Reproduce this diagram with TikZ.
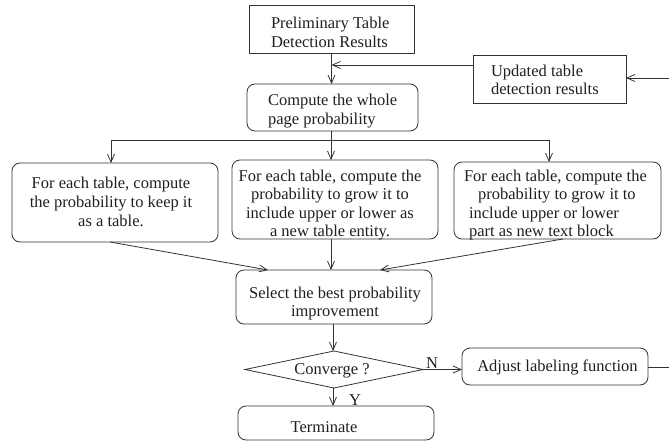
\documentclass[tikz,border=0pt]{standalone}
\usepackage{fontspec}
\setmainfont{Liberation Serif}
\usetikzlibrary{arrows.meta,shapes.geometric}
\begin{document}
\begin{tikzpicture}[x=1pt,y=-1pt,
  every node/.style={inner sep=0pt, outer sep=0pt, text=black!88},
  txt/.style={font=\fontsize{16.5}{19}\selectfont},
  txtt/.style={font=\fontsize{16.5}{18.5}\selectfont},
  sqbox/.style={draw=black!80, line width=0.8pt, rectangle},
  rbox/.style={draw=black!80, line width=0.8pt, rectangle, rounded corners=8pt},
  dbox/.style={draw=black!80, line width=0.8pt, diamond},
  flow/.style={draw=black!80, line width=0.8pt, -{Straight Barb[length=8pt,width=7pt]}},
  plain/.style={draw=black!80, line width=0.8pt}]
\useasboundingbox (0,0) rectangle (669,441);

% boxes
\node[sqbox, minimum width=165pt, minimum height=48pt] (prelim) at (331.5,29) {};
\node[rbox, minimum width=171pt, minimum height=47pt] (whole) at (332.5,107.5) {};
\node[sqbox, minimum width=153pt, minimum height=48pt] (updated) at (549.5,79) {};
\node[rbox, minimum width=206pt, minimum height=79pt] (keep) at (115,202.5) {};
\node[rbox, minimum width=206pt, minimum height=79pt] (growtab) at (335,199.5) {};
\node[rbox, minimum width=207pt, minimum height=77pt] (growtxt) at (557.5,200.5) {};
\node[rbox, minimum width=196pt, minimum height=54pt] (select) at (334,297) {};
\node[dbox, minimum width=178pt, minimum height=37pt] (conv) at (334,369.5) {};
\node[rbox, minimum width=186pt, minimum height=37pt] (adjust) at (555,366.5) {};
\node[rbox, minimum width=196pt, minimum height=34pt] (term) at (336,423) {};

% texts
\node[txt, align=left, anchor=west] (prelimtext) at (271,32) {Preliminary Table\\Detection Results};
\node[txt, align=left, anchor=west] (wholetext) at (268,111) {Compute the whole\\page probability};
\node[txtt, align=left, anchor=west] (updatedtext) at (491,80) {Updated table\\detection results};
\node[txt, align=center] (keeptext) at (111,201.5) {For each table, compute\\the probability to keep it\\as a table.};
\node[txtt, align=center] (growtabtext) at (330,205) {For each table, compute the\\probability to grow it to\\include upper or lower as\\a new table entity.};
\node[txtt, align=left, anchor=west] (growtxttext) at (464,205) {For each table, compute the\\\hspace*{14pt}probability to grow it to\\\hspace*{5pt}include upper or lower\\\hspace*{5pt}part as new text block};
\node[txtt, align=center] (selecttext) at (335,303.5) {Select the best probability\\improvement};
\node[txt] (convtext) at (332,370.5) {Converge ?};
\node[txt] (adjusttext) at (557.5,367.5) {Adjust labeling function};
\node[txt] (termtext) at (324,427.3) {Terminate};
\node[txt] (nlabel) at (432,362.7) {N};
\node[txt] (ylabel) at (355,399.7) {Y};

% connectors
\draw[flow] (prelim.south) -- (prelim.south |- whole.north);
\draw[flow] ([yshift=14pt]updated.west) -- ([yshift=14pt]updated.west -| prelim.south);
\coordinate (fbin) at (669,78);
\draw[flow] (fbin) -- (fbin -| updated.east);
\coordinate (fbout) at (669,367);
\draw[plain] (adjust.east |- fbout) -- (fbout);

\coordinate (split) at (331,140);
\coordinate (splitL) at (111,140);
\coordinate (splitR) at (549,140);
\draw[plain] (split |- whole.south) -- (split);
\draw[plain] (splitL) -- (splitR);
\draw[flow] (splitL) -- (splitL |- keep.north);
\draw[flow] (split) -- (split |- growtab.north);
\draw[flow] (splitR) -- (splitR |- growtxt.north);

\draw[flow] ([xshift=-5pt]keep.south) -- ([xshift=-66pt]select.north);
\draw[flow] ([xshift=-4pt]growtab.south) -- ([xshift=-3pt]select.north);
\draw[flow] ([xshift=5.5pt]growtxt.south) -- ([xshift=46pt]select.north);
\draw[flow] ([xshift=-1pt]select.south) -- ([xshift=-1pt]conv.north);
\draw[flow] (conv.east) -- (conv.east -| adjust.west);
\draw[flow] ([xshift=-1pt]conv.south) -- ([xshift=-1pt]conv.south |- term.north);
\end{tikzpicture}
\end{document}
